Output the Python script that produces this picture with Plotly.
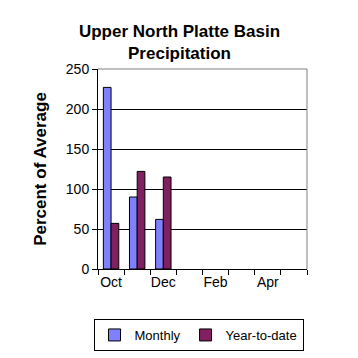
import plotly.graph_objects as go

months = ["Oct", "Nov", "Dec", "Jan", "Feb", "Mar", "Apr", "May"]
tick_labels = ["Oct", "", "Dec", "", "Feb", "", "Apr", ""]
monthly = [227, 90, 62, None, None, None, None, None]
ytd = [57, 122, 115, None, None, None, None, None]

fig = go.Figure()
fig.add_trace(go.Bar(x=months, y=monthly, name="Monthly",
                     marker=dict(color="#8080FF", line=dict(color="black", width=1))))
fig.add_trace(go.Bar(x=months, y=ytd, name="Year-to-date",
                     marker=dict(color="#802060", line=dict(color="black", width=1))))

fig.update_layout(
    width=350, height=350,
    margin=dict(l=90, r=51, t=61, b=89, autoexpand=False),
    paper_bgcolor="white", plot_bgcolor="white",
    font=dict(family="Arial, Liberation Sans", size=14, color="black"),
    title=dict(text="<b>Upper North Platte Basin<br>Precipitation</b>",
               x=0.49, xanchor="center", y=0.917, yanchor="top",
               font=dict(size=17)),
    barmode="group", bargap=0.41, bargroupgap=0,
    showlegend=True,
    legend=dict(orientation="h", x=0.481, xanchor="center",
                y=-0.25, yanchor="top",
                bordercolor="black", borderwidth=1, font=dict(size=13),
                itemwidth=30, tracegroupgap=0),
)
fig.update_xaxes(type="category", tickvals=months, ticktext=tick_labels,
                 tickson="boundaries", ticks="outside", ticklen=5, tickcolor="black",
                 tickangle=0, automargin=False,
                 showline=True, linecolor="black", linewidth=1, showgrid=False,
                 range=[-0.5, 7.5])
fig.update_yaxes(range=[0, 250], dtick=50, ticks="outside", ticklen=5, tickcolor="black",
                 automargin=False,
                 showline=True, linecolor="black", linewidth=1,
                 showgrid=True, gridcolor="black", gridwidth=1, zeroline=False,
                 title=dict(text="<b>Percent of Average</b>", font=dict(size=17), standoff=14))
fig.add_shape(type="line", xref="paper", yref="paper", x0=0, x1=1, y0=1, y1=1,
              line=dict(color="#808080", width=1))
fig.add_shape(type="line", xref="paper", yref="paper", x0=1, x1=1, y0=0, y1=1,
              line=dict(color="#808080", width=1))
fig.write_html("out.html")
